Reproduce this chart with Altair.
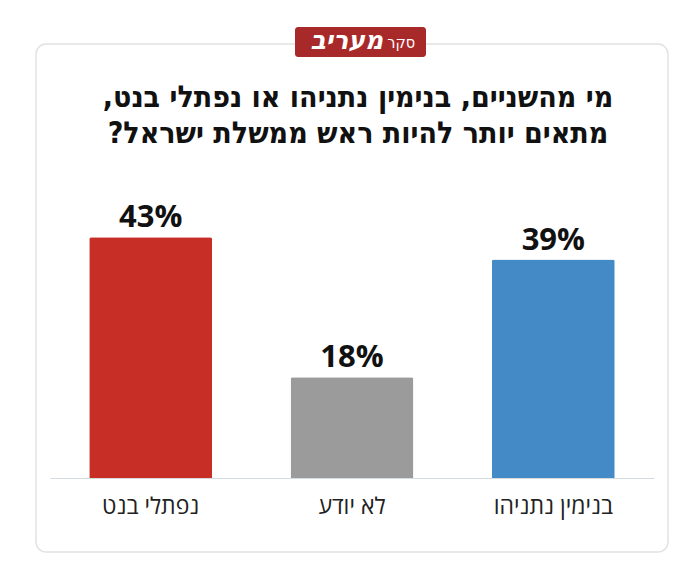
import altair as alt
import pandas as pd

categories = ["נפתלי בנט", "לא יודע", "בנימין נתניהו"]
values = [43, 18, 39]
colors = ["#c72e26", "#9b9b9b", "#438ac7"]

title_lines = ["\u200fמי מהשניים, בנימין נתניהו או נפתלי בנט,\u200f",
               "\u200fמתאים יותר להיות ראש ממשלת ישראל?\u200f"]
badge_word1 = "סקר"
badge_word2 = "מעריב"

df = pd.DataFrame({"cat": categories, "val": values})

W, H = 604, 280
one = alt.Data(values=[{}])
TFONT = "DejaVu Sans Condensed"

xenc = alt.X("cat:N", sort=categories, title=None,
             scale=alt.Scale(paddingInner=0.39, paddingOuter=0.195),
             axis=alt.Axis(labelAngle=0, ticks=False, domainColor="#d6dbe0",
                           labelFont="Open Sans", labelFontSize=23, zindex=1,
                           labelColor="#222222", labelPadding=17))
yenc = alt.Y("val:Q", scale=alt.Scale(domain=[0, 50]), axis=None)

bars = alt.Chart(df).mark_bar(cornerRadiusTopLeft=2, cornerRadiusTopRight=2).encode(
    x=xenc, y=yenc,
    color=alt.Color("cat:N", scale=alt.Scale(domain=categories, range=colors), legend=None),
)
labels = alt.Chart(df).transform_calculate(lab="datum.val + '%'").mark_text(
    font="Open Sans", fontWeight="bold", fontSize=31, dy=-10, baseline="alphabetic",
    color="#111111").encode(x=alt.X("cat:N", sort=categories), y="val:Q", text="lab:N")

card = alt.Chart(one).mark_rect(fill="white", fillOpacity=0, stroke="#e2e2e2",
                                strokeWidth=1.5, cornerRadius=10).encode(
    x=alt.value(-14), x2=alt.value(618), y=alt.value(-154), y2=alt.value(354))
badge = alt.Chart(one).mark_rect(fill="#a8292a", cornerRadius=3).encode(
    x=alt.value(245), x2=alt.value(376), y=alt.value(-171), y2=alt.value(-141))
b1 = alt.Chart(one).mark_text(text=badge_word1, font="DejaVu Sans Condensed", fontSize=16,
                              color="white", align="right", baseline="alphabetic").encode(
    x=alt.value(365), y=alt.value(-150))
b2 = alt.Chart(one).mark_text(text=badge_word2, font="DejaVu Sans", fontSize=25,
                              fontWeight="bold", fontStyle="italic",
                              color="white", align="right", baseline="alphabetic").encode(
    x=alt.value(333), y=alt.value(-149))
t1 = alt.Chart(one).mark_text(text=title_lines[0], font=TFONT, fontSize=30,
                              fontWeight="bold", color="#111111", align="center",
                              baseline="middle").encode(x=alt.value(308), y=alt.value(-100))
t2 = alt.Chart(one).mark_text(text=title_lines[1], font=TFONT, fontSize=30,
                              fontWeight="bold", color="#111111", align="center",
                              baseline="middle").encode(x=alt.value(308), y=alt.value(-64))

chart = alt.layer(card, badge, b1, b2, t1, t2, bars, labels).properties(
    width=W, height=H,
    autosize=alt.AutoSizeParams(type="none"),
    padding={"left": 42, "top": 190, "right": 18, "bottom": 75},
).configure_view(stroke=None)

chart.save("out.html", embed_options={"renderer": "svg", "actions": False})
